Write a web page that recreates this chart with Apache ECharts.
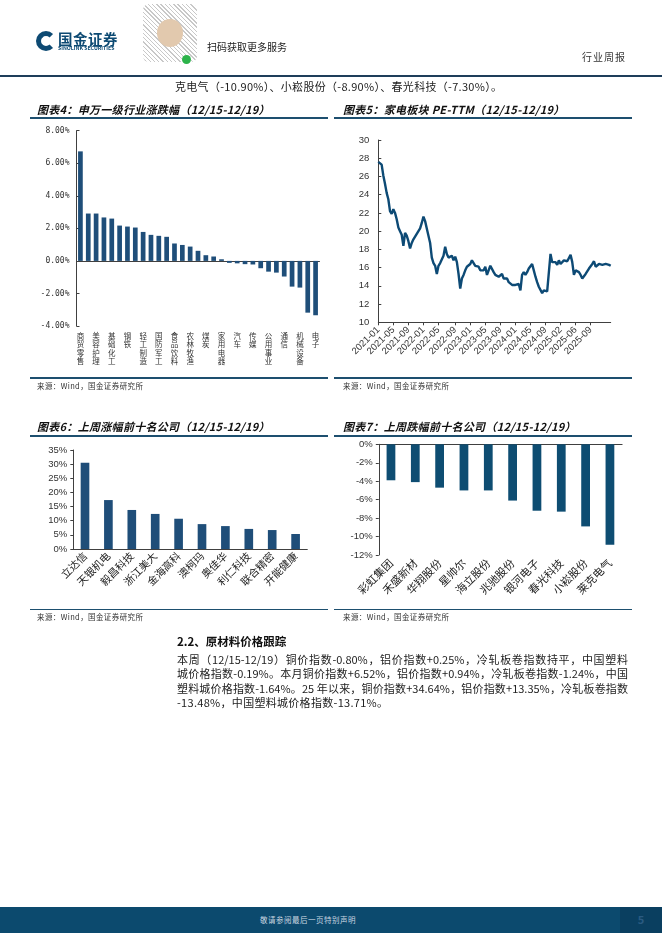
<!DOCTYPE html>
<html><head><meta charset="utf-8">
<script src="https://cdn.jsdelivr.net/npm/echarts@6/dist/echarts.min.js"></script>
<style>
html,body{margin:0;padding:0;background:#fff;}
body{width:662px;height:936px;position:relative;overflow:hidden;font-family:"Noto Sans CJK SC","Noto Sans",sans-serif;color:#222;}
#c{position:absolute;left:0;top:0;width:662px;height:936px;}
.t{position:absolute;white-space:nowrap;}
.title{font-size:11px;line-height:11px;font-weight:bold;font-style:italic;color:#111;letter-spacing:0.3px;}
.src{font-size:7.5px;line-height:8px;color:#333;letter-spacing:0.4px;}
.hl{position:absolute;height:1.5px;background:#1d4f6f;}
.para{position:absolute;left:177px;width:451px;font-size:11px;line-height:11px;color:#222;white-space:nowrap;}
.just{text-align:justify;text-align-last:justify;}
</style></head>
<body>
<div id="c"></div>
<!-- header -->
<div style="position:absolute;left:36px;top:31px;width:10px;height:10px;border:5px solid #0d4a73;border-radius:50%;border-right-color:transparent;"></div>
<div class="t" style="left:58px;top:31px;font-size:14.5px;line-height:15px;font-weight:bold;color:#0d4a73;letter-spacing:0.5px;">国金证券</div>
<div class="t" style="left:58px;top:45px;font-size:5.2px;line-height:6px;font-weight:bold;color:#0d4a73;">SINOLINK SECURITIES</div>
<div style="position:absolute;left:143px;top:4px;width:54px;height:58px;border-radius:6px;background:repeating-linear-gradient(45deg,#fff 0 2px,#bbb 2px 3px),#ddd;opacity:0.8;"></div>
<div style="position:absolute;left:157px;top:19px;width:26px;height:28px;border-radius:50%;background:#e2c9ae;"></div>
<div style="position:absolute;left:182px;top:55px;width:9px;height:9px;border-radius:50%;background:#2cb34a;"></div>
<div class="t" style="left:207px;top:42px;font-size:10px;line-height:10px;color:#222;">扫码获取更多服务</div>
<div class="t" style="left:582px;top:52px;font-size:10px;line-height:10px;color:#333;letter-spacing:1px;">行业周报</div>
<div style="position:absolute;left:0;top:75px;width:662px;height:1.5px;background:#1e3d5a;"></div>
<div class="t" style="left:175px;top:80.5px;font-size:11px;line-height:11px;color:#222;letter-spacing:0.3px;">克电气（-10.90%）、小崧股份（-8.90%）、春光科技（-7.30%）。</div>
<!-- chart titles -->
<div class="t title" style="left:37px;top:104px;">图表4：申万一级行业涨跌幅（12/15-12/19）</div>
<div class="t title" style="left:343px;top:104px;">图表5：家电板块 PE-TTM（12/15-12/19）</div>
<div class="hl" style="left:30px;top:117px;width:298px;"></div>
<div class="hl" style="left:334px;top:117px;width:298px;"></div>
<div class="hl" style="left:30px;top:377px;width:298px;"></div>
<div class="hl" style="left:334px;top:377px;width:298px;"></div>
<div class="t src" style="left:37px;top:382px;">来源：Wind，国金证券研究所</div>
<div class="t src" style="left:343px;top:382px;">来源：Wind，国金证券研究所</div>
<div class="t title" style="left:37px;top:421px;">图表6：上周涨幅前十名公司（12/15-12/19）</div>
<div class="t title" style="left:343px;top:421px;">图表7：上周跌幅前十名公司（12/15-12/19）</div>
<div class="hl" style="left:30px;top:435px;width:298px;"></div>
<div class="hl" style="left:334px;top:435px;width:298px;"></div>
<div class="hl" style="left:30px;top:608.5px;width:298px;"></div>
<div class="hl" style="left:334px;top:608.5px;width:298px;"></div>
<div class="t src" style="left:37px;top:613px;">来源：Wind，国金证券研究所</div>
<div class="t src" style="left:343px;top:613px;">来源：Wind，国金证券研究所</div>
<!-- section text -->
<div class="t" style="left:177px;top:635px;font-size:11.5px;line-height:12px;font-weight:bold;color:#111;">2.2、原材料价格跟踪</div>
<div class="para just" style="top:653.5px;">本周（12/15-12/19）铜价指数-0.80%，铝价指数+0.25%，冷轧板卷指数持平，中国塑料</div>
<div class="para just" style="top:668px;">城价格指数-0.19%。本月铜价指数+6.52%，铝价指数+0.94%，冷轧板卷指数-1.24%，中国</div>
<div class="para just" style="top:682.5px;">塑料城价格指数-1.64%。25 年以来，铜价指数+34.64%，铝价指数+13.35%，冷轧板卷指数</div>
<div class="para" style="top:697px;letter-spacing:0.3px;">-13.48%，中国塑料城价格指数-13.71%。</div>
<!-- footer -->
<div style="position:absolute;left:0;top:907px;width:662px;height:26px;background:#0c4a6e;"></div>
<div style="position:absolute;left:620px;top:907px;width:42px;height:26px;background:#0a3f60;"></div>
<div class="t" style="left:0;width:616px;text-align:center;top:916px;font-size:7.5px;line-height:8px;color:#c9d6e0;letter-spacing:0.5px;">敬请参阅最后一页特别声明</div>
<div class="t" style="left:620px;width:42px;text-align:center;top:914px;font-size:11px;line-height:11px;color:#2a5b82;font-weight:bold;">5</div>
<script>
// ---- Chart 4: 申万一级行业涨跌幅 (%)
const industries = ['商贸零售','纺织服饰','美容护理','有色金属','基础化工','建筑材料','钢铁','社会服务','轻工制造','交通运输','国防军工','医药生物','食品饮料','石油石化','农林牧渔','环保','煤炭','建筑装饰','家用电器','银行','汽车','房地产','传媒','非银金融','公用事业','综合','通信','计算机','机械设备','电力设备','电子'];
const industryChange = [6.73,2.91,2.91,2.67,2.60,2.17,2.11,2.05,1.78,1.60,1.54,1.48,1.07,0.98,0.88,0.62,0.35,0.27,0.10,-0.12,-0.15,-0.20,-0.22,-0.45,-0.66,-0.72,-0.96,-1.58,-1.64,-3.18,-3.34];
// ---- Chart 5: 家电板块 PE-TTM (sampled, 2021-01 .. 2025-12)
const peTickLabels = ['2021-01','2021-05','2021-09','2022-01','2022-05','2022-09','2023-01','2023-05','2023-09','2024-01','2024-05','2024-09','2025-02','2025-06','2025-09'];
const peValues = [
27.6,27.8,27.3,26.1,25.2,24.2,23.5,22.2,21.9,22.4,22.0,21.3,20.4,20.0,19.6,18.4,19.8,19.5,18.9,18.1,18.7,19.1,19.3,19.7,19.5,20.3,20.9,21.6,21.1,20.3,19.5,18.7,17.1,16.5,16.2,15.3,16.2,16.5,16.4,17.3,18.3,17.5,17.1,17.0,17.3,16.8,17.2,
16.6,15.3,13.7,14.8,15.2,15.7,16.1,15.9,16.4,16.8,16.6,16.2,16.4,16.1,15.7,15.5,15.7,16.1,15.2,15.0,16.2,16.4,15.5,15.2,15.3,15.0,15.2,15.3,14.8,14.6,14.8,14.4,14.2,14.1,13.9,14.1,13.9,14.2,13.5,15.2,15.5,15.2,15.5,15.9,
15.9,16.4,15.7,15.0,14.4,13.9,13.7,13.2,13.5,13.4,13.4,13.4,17.5,16.6,16.4,16.6,16.3,16.8,16.4,16.6,16.8,16.6,16.7,16.9,17.4,16.6,15.2,15.7,15.6,15.5,15.2,14.8,15.0,15.3,15.5,15.9,16.1,16.4,16.7,16.1,16.3,16.4,16.2,16.3,16.3,16.4,16.2,16.3,16.2];
// ---- Chart 6: 上周涨幅前十名公司 (%)
const gainers = ['立达信','天银机电','毅昌科技','浙江美大','金海高科','澳柯玛','奥佳华','利仁科技','联合精密','开能健康'];
const gainersChange = [30.5,17.3,13.8,12.4,10.7,8.8,8.1,7.1,6.7,5.3];
// ---- Chart 7: 上周跌幅前十名公司 (%)
const losers = ['彩虹集团','禾盛新材','华翔股份','星帅尔','海立股份','兆驰股份','银河电子','春光科技','小崧股份','莱克电气'];
const losersChange = [-3.9,-4.1,-4.7,-5.0,-5.0,-6.1,-7.2,-7.3,-8.9,-10.9];

const peCats = peValues.map((_, i) => String(i));
const ticksPerLabel = 9.1; // sample points between date labels
const peLabelAt = {};
peTickLabels.forEach((l, k) => { peLabelAt[Math.round(k * ticksPerLabel)] = l; });

const axisColor = '#404040';
const num = '"Liberation Sans", Arial, sans-serif';
const cjk = '"Noto Sans CJK SC", sans-serif';
const chart = echarts.init(document.getElementById('c'), null, {renderer: 'canvas'});
chart.setOption({
  animation: false,
  textStyle: {fontFamily: cjk},
  grid: [
    {left: 76.5, top: 130.7, width: 243, height: 195.3, outerBoundsMode: 'none'},
    {left: 378.3, top: 140, width: 232.4, height: 182.3, outerBoundsMode: 'none'},
    {left: 73.3, top: 450, width: 234, height: 99, outerBoundsMode: 'none'},
    {left: 378.8, top: 444.3, width: 243.3, height: 110.7, outerBoundsMode: 'none'}
  ],
  xAxis: [
    {gridIndex: 0, type: 'category', data: industries, axisLine: {onZero: true, lineStyle: {color: axisColor}}, axisTick: {show: false}, axisLabel: {show: false}},
    {gridIndex: 0, type: 'category', data: industries, position: 'bottom', axisLine: {show: false, onZero: false}, axisTick: {show: false},
      axisLabel: {interval: 1, fontSize: 7.5, lineHeight: 8.3, margin: 6, color: '#333', formatter: v => v.split('').join('\n')}},
    {gridIndex: 1, type: 'category', data: peCats, boundaryGap: false, axisLine: {lineStyle: {color: axisColor}},
      axisTick: {interval: i => peLabelAt[i] !== undefined, length: 3, lineStyle: {color: axisColor}},
      axisLabel: {interval: i => peLabelAt[i] !== undefined, formatter: (v, i) => peLabelAt[i] || '', rotate: 45, fontSize: 9.5, fontFamily: num, color: '#333', margin: 6}},
    {gridIndex: 2, type: 'category', data: gainers, axisLine: {lineStyle: {color: axisColor}}, axisTick: {length: 3, lineStyle: {color: axisColor}},
      axisLabel: {interval: 0, rotate: 45, fontSize: 10.5, color: '#222', margin: 5}},
    {gridIndex: 3, type: 'category', data: losers, position: 'top', axisLine: {lineStyle: {color: axisColor}}, axisTick: {length: 3, lineStyle: {color: axisColor}}, axisLabel: {show: false}},
    {gridIndex: 3, type: 'category', data: losers, position: 'bottom', axisLine: {show: false, onZero: false}, axisTick: {show: false},
      axisLabel: {interval: 0, rotate: 45, fontSize: 11, color: '#222', margin: 6}}
  ],
  yAxis: [
    {gridIndex: 0, type: 'value', min: -4, max: 8, interval: 2, splitLine: {show: false},
      axisLine: {show: true, lineStyle: {color: axisColor}}, axisTick: {show: true, inside: true, length: 3, lineStyle: {color: axisColor}},
      axisLabel: {formatter: v => v.toFixed(2) + '%', fontSize: 8, fontFamily: '"DejaVu Sans Mono", monospace', color: '#333', margin: 7}},
    {gridIndex: 1, type: 'value', min: 10, max: 30, interval: 2, splitLine: {show: false},
      axisLine: {show: true, lineStyle: {color: axisColor}}, axisTick: {show: true, inside: true, length: 3, lineStyle: {color: axisColor}},
      axisLabel: {fontSize: 9.5, fontFamily: num, color: '#333', margin: 9}},
    {gridIndex: 2, type: 'value', min: 0, max: 35, interval: 5, splitLine: {show: false},
      axisLine: {show: true, lineStyle: {color: axisColor}}, axisTick: {show: true, length: 3, lineStyle: {color: axisColor}},
      axisLabel: {formatter: v => v + '%', fontSize: 9.5, fontFamily: num, color: '#333', margin: 6}},
    {gridIndex: 3, type: 'value', min: -12, max: 0, interval: 2, splitLine: {show: false},
      axisLine: {show: true, lineStyle: {color: axisColor}}, axisTick: {show: true, length: 3, lineStyle: {color: axisColor}},
      axisLabel: {formatter: v => v + '%', fontSize: 9.5, fontFamily: num, color: '#333', margin: 6}}
  ],
  series: [
    {type: 'bar', xAxisIndex: 0, yAxisIndex: 0, data: industryChange, barWidth: '60%', itemStyle: {color: '#1f4e79'}},
    {type: 'line', xAxisIndex: 2, yAxisIndex: 1, data: peValues, showSymbol: false, symbol: 'none', lineStyle: {color: '#0d4a75', width: 2.4}},
    {type: 'bar', xAxisIndex: 3, yAxisIndex: 2, data: gainersChange, barWidth: '37%', itemStyle: {color: '#1f4e79'}},
    {type: 'bar', xAxisIndex: 4, yAxisIndex: 3, data: losersChange, barWidth: '36%', itemStyle: {color: '#0e4d72'}}
  ]
});
</script>
</body></html>
